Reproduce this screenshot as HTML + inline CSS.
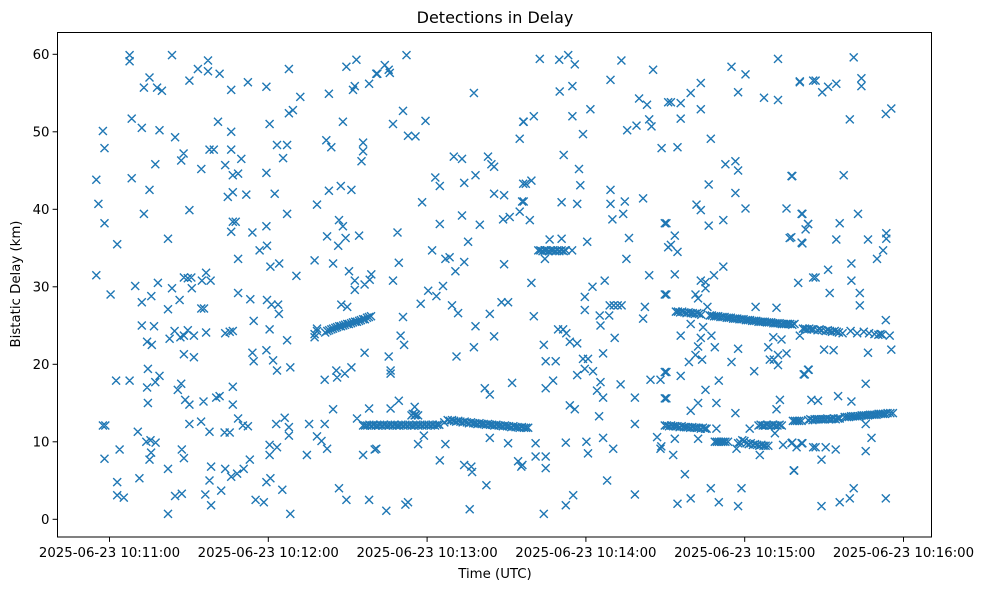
<!DOCTYPE html>
<html><head><meta charset="utf-8"><title>Detections in Delay</title>
<style>
html,body{margin:0;padding:0;background:#fff;}
svg{display:block;font-family:"DejaVu Sans","Liberation Sans",sans-serif;}
</style></head>
<body>
<svg id="chart" width="986" height="590" viewBox="0 0 986 590" xmlns="http://www.w3.org/2000/svg">
<rect x="0" y="0" width="986" height="590" fill="#fff"/>
<text x="495" y="23" font-size="16" text-anchor="middle" fill="#000">Detections in Delay</text>
<g id="plot"></g>
<g id="axes"></g>
<text x="495" y="578" font-size="13.3" text-anchor="middle" fill="#000">Time (UTC)</text>
<text transform="translate(20,284) rotate(-90)" font-size="13.3" text-anchor="middle" fill="#000">Bistatic Delay (km)</text>
</svg>
<script>
// time values: seconds after 2025-06-23 10:10:00 ; delay values in km
const xTickValues = [60, 120, 180, 240, 300, 360];
const xTickLabels = ["2025-06-23 10:11:00","2025-06-23 10:12:00","2025-06-23 10:13:00","2025-06-23 10:14:00","2025-06-23 10:15:00","2025-06-23 10:16:00"];
const yTickValues = [0, 10, 20, 30, 40, 50, 60];
const yTickLabels = ["0","10","20","30","40","50","60"];

const scatterEarly = [
[67.6,59.9],[67.6,59.1],[83.6,59.9],[97.2,59.2],[93.4,58.1],[97.2,57.8],[101.6,57.5],[75.1,57],[73,55.7],[78,55.7],[79.8,55.3],[90.2,56.6],[106,55.4],
[68.4,51.7],[72.2,50.5],[57.5,50.1],[78.9,50.2],[84.8,49.3],[101,51.3],[106,50],
[58.1,47.9],[97.8,47.7],[99.4,47.7],[106,47.7],[88,47.2],[87.1,46.3],[77.3,45.8],[94.7,45.2],[103.7,45.7],[106.6,44.4],
[55,43.8],[68.4,44],[75.1,42.5],[104.7,41.6],[106.6,42.2],[55.8,40.7],[73,39.4],[90.2,39.9],[58.1,38.2],[106,37.1],[106.6,38.4],
[62.9,35.5],[82.1,36.2],[55,31.5],[60.4,29],[69.7,30.1],[78.3,30.5],[72.2,28],[75.8,28.8],[83.6,29.8],[88.1,31.2],[90.9,31.2],[89.6,31.1],[91.1,29.8],[96.5,31.8],[94.9,30.8],[98.2,30.8],[86.5,28.3],[82.1,27.1],[94.7,27.2],[95.7,27.2],
[72.2,25],[76.8,24.9],[82.7,23.3],[84.6,24.3],[86.8,23.5],[88.1,23.7],[89.6,24.4],[91.9,23.7],[96.5,24.1],[103.7,24],[105.4,24.2],[106.6,24.3],[74.2,22.9],[76,22.5],[88.1,21.3],[91.9,20.9],
[74.5,19.4],[62.5,17.9],[67.6,17.9],[78.9,18.5],[77.3,17.7],[74.2,17],[87.1,17.5],[85.8,16.7],[74.5,15],[88.6,15.4],[90.2,14.8],[95.5,15.2],[100.3,15.7],[101.6,15.9],[106.6,17.1],[106.6,14.8],
[57.5,12.1],[58.4,12.1],[70.7,11.3],[90.2,12.3],[94.6,12.6],[97.8,11.3],[103.5,11.2],[105.4,11.2],[73.9,10],[75.5,10.2],[77.4,9.9],[63.8,9],[75.7,8.6],[75.1,7.7],[58.1,7.8],[87.3,9],[88.1,7.9],[82.1,6.5],[98.4,6.8],[103.7,6.5],[106,5.5],[71.3,5.3],[62.9,4.8],[97.8,5],[102.2,3.7],[62.9,3.1],[65.4,2.8],[84.8,3],[87.3,3.3],[96.2,3.2],[98.4,1.8],[82.1,0.7]
];
const scatterMid = [
[127.8,58.1],[149.5,58.4],[153.3,59.3],[160.8,57.5],[112.3,56.4],[119.3,55.8],[132.1,54.5],[142.9,54.9],[152,55.4],[152.7,55.9],[158.1,56.2],[120.5,51],[127.8,52.4],[129.3,52.8],[148.2,51.3],
[123.3,48.3],[127.1,48.3],[141.9,48.9],[143.8,48],[155.8,48.6],[155.8,47.5],[155.2,46.2],[125.6,46.6],[109.8,46.5],[108.6,44.6],[119.3,44.7],
[111.7,41.9],[122.4,42],[142.9,42.4],[147.4,43],[151.4,42.5],[138.4,40.6],[127.1,39.4],
[107.7,38.4],[114,37],[119.3,37.8],[142.2,36.5],[146.7,38.6],[148.2,37.8],[149.2,36.3],[154.3,36.6],[146.4,35.3],[116.7,34.7],[119.5,35.3],[108.6,33.6],[120.8,32.6],[124.1,33],[137.5,33.4],[144.5,33],[130.6,31.4],[150.5,32],[152.7,30.8],[152.7,29.6],[156.4,30.3],[158.3,30.9],[158.9,31.6],
[108.6,29.2],[113.2,28.4],[119.5,28.3],[121.2,27.7],[123.7,27.7],[124,26.5],[147.6,27.7],[149.8,27.4],[114.5,25.6],[120.5,24.5],[127.1,23.1],[137.5,23.5],[138.4,24.6],
[156.4,21.5],[114,21.5],[114.5,20.4],[119.3,21.8],[121.8,20.5],[123.3,19.2],[128.3,19.6],[141.3,18],[145.7,19.2],[146,18.3],[148.9,18.8],[151.4,19.6],
[108.6,13],[110.4,12.1],[112.3,12],[123,12.3],[126.2,13.1],[127.8,11.9],[127.8,10.8],[135.4,12.3],[141.3,12.3],[144.5,14.2],[138.4,10.7],[140.1,10.1],[142.2,9.1],[120.5,9.6],[120.5,8.3],[123.3,9.3],[134.6,8.3],[155.8,8.3],[160.2,9],[153.5,13],[158.1,14.3],[113,7.7],[110.7,6.5],[108.2,5.9],[119.3,4.8],[120.8,5.3],[125.3,3.8],[115.2,2.5],[118.3,2.2],[128.3,0.7],[146.7,4],[149.5,2.5],[158.1,2.5],
[172.2,59.9],[164,58.6],[165.5,58],[165.9,57.6],[161.2,57.5],[197.7,55],[170.9,52.7],[167.1,51],[179.4,51.4],[172.8,49.5],[175.6,49.4],[216.3,51.3],[215,49.1],
[190.1,46.8],[193.2,46.5],[203,46.8],[204.3,45.8],[205.3,45.5],[183.1,44.1],[184.8,43],[194,43.4],[198.3,44.4],[205.3,42],[209.1,41.8],[216.3,43.3],[215.9,41],[215,39.7],[178.1,40.9],[193.2,39.2],[208.7,38.7],[211.2,39],[184.8,38.1],[199.9,38],[168.8,37],[195.5,35.8],[181.9,34.7],[186.9,33.6],[188.5,33.8],[194,33.2],[190.7,32],[209.1,32.9],[169.3,33.1],[167.1,30.8],[186,30.1],[180.4,29.5],[183.5,28.8],[177.6,27.8],[189.4,27.6],[191.7,26.6],[203.7,26.5],[208.1,28],[210.6,28],[170.9,26.1],[170,23.7],[171.3,22.5],[198.3,24.9],[205.3,23.6],[197.7,22.2],[191.1,21],[165.5,21],[166.2,19.2],[166.2,18.8],[212.1,17.6],[201.8,16.9],[203.7,16.1],
[166.2,14.3],[169.3,15.3],[175.3,14.5],[174.1,13.4],[175.3,13.4],[176.6,13.4],[174.6,13.6],[175.8,13.5],
[178.8,10.8],[176.6,9.7],[186.9,9.7],[160.8,9.1],[203.7,10.5],[210.6,9.8],[184.8,7.6],[194,7],[196.7,6.8],[197,6.1],[214.4,7.5],[215.6,6.8],[202.4,4.4],[164.6,1.1],[171.8,1.9],[172.8,2.2],[196.1,1.3]
];
const scatterLate = [
[222.6,59.4],[229.9,59.3],[233.3,59.9],[235.8,58.7],[253.4,59.2],[265.4,58],[249.3,56.7],[230.1,55.2],[234.9,55.9],[241.7,52.9],[260.1,54.3],[263.1,53.5],[271.1,53.8],[216.5,51.3],[220.3,52],[234.9,52],[238.9,49.7],[255.6,50.2],[259.1,50.8],[263.9,51.6],[264.8,50.7],[268.6,47.9],[231.6,47],[237.4,45.2],[237.9,43.1],[217.3,43.3],[219.4,43.7],[216.5,41],[230.8,40.9],[236.7,40.7],[249.3,42.5],[249.3,40.7],[254.7,41],[261.6,41.4],[218.8,38.6],[250,38.7],[254.1,39.4],[269.8,38.2],[271.1,35.1],[256.3,36.3],[240.5,35.8],[255.3,33.6],
[226.3,36.1],[230.8,36.2],[224.5,33.6],
[219.4,30.5],[263.9,31.5],[247.1,30.8],[242.5,30],[239.6,28.7],[269.8,29],[249,27.6],[250.5,27.6],[252,27.6],[253.5,27.6],[262.3,27.4],[261.6,25.9],[239.6,27],[245.2,26.3],[248.8,26.3],[245.5,25],[220.3,26.2],[229.5,24.5],[231.4,24.5],[232.6,24],[233.9,22.9],[236.7,22.7],[250.9,23.4],[224.1,22.5],[224.8,20.4],[228.6,20.4],[238.9,20.7],[240.8,20.7],[246.5,21.4],[239.6,19.4],[242.7,19.1],[236.7,18.6],[227.6,17.9],[224.8,16.9],[245.5,17.7],[244.2,16.6],[246.5,15.7],[253.1,17.4],[258.5,15.7],[264.4,18],[268.2,18],[269.8,19],[269.8,15.6],[233.9,14.7],[235.8,14.2],[245,13.3],
[258.5,12.3],[221,9.8],[232.4,9.9],[240.2,10],[240.8,8.5],[246.5,10.5],[250.3,9.1],[221,8.1],[224.8,8.1],[216,7],[224.8,6.6],[266.9,10.6],[268.2,9.1],[268.5,9.4],[248,5],[235.2,3.1],[232.4,1.8],[224.1,0.7],[258.5,3.2],
[312.6,59.4],[295,58.4],[300.3,57.4],[320.8,56.4],[325.9,56.6],[283.4,56.3],[279.6,55],[297.5,55.1],[307.3,54.4],[312.6,54.1],[272.1,53.8],[275.8,53.7],[283.4,52.9],[275.8,51.7],[287.2,49.1],[274.6,48],[292.7,45.8],[296.5,46.2],[297.5,45],[317.7,44.3],[286.4,43.2],[296.5,42.1],[281.8,40.6],[283.4,39.9],[300.3,40.1],[315.8,40.1],[321.5,39.4],[324,38.1],[323,37.4],[286.4,37.9],[291.9,38.6],[270.4,38.2],[273.6,36.6],[272.1,35.4],[274.6,34.5],[317,36.3],[321.5,35.7],[291.9,32.6],[273.6,31.6],[288.4,31.5],[283.4,30.8],[285.2,30.6],[285.2,29.8],[281.4,29],[270.4,29],[320.2,30.5],[325.9,31.2],
[304.1,27.4],[312,27.3],[285.9,27.4],[282.4,28.5],[279.6,25.2],[275.8,23.7],[284.3,24.8],[287.4,23.7],[283.4,23.4],[282.4,22.3],[288.7,22.2],[297.5,22],[281.4,21.2],[283.9,20.6],[278.9,20.3],[295,20.3],[308.9,22.2],[310.8,23.5],[313.9,23.2],[315.8,21.4],[312.6,21.2],[309.5,20.6],[311,20.6],[312.6,19.9],[303.6,19.1],[320.8,23.7],[322.7,18.7],[324.2,19.3],[270.4,19],[275.8,18.5],[290.2,17.9],[285.2,16.7],[270.4,15.6],[282.4,15],[279.6,14],[289.3,15],[313.3,15.4],[312,14.2],[325.2,15.4],[296.5,13.7],
[273.6,10.4],[282.4,10.4],[273,8.3],[289.3,11.7],[301.9,11.7],[296.9,9.1],[305.7,8.3],[311.4,11.1],[314.5,9.6],[317.7,9.8],[319.6,9.3],[321.5,9.8],[325.9,9.3],[277.4,5.8],[318.7,6.3],[287.2,4],[298.8,4],[279.6,2.7],[274.6,2],[290.2,2.2],[297.5,1.7],
[341.2,59.6],[320.8,56.5],[326.8,56.6],[329.3,55.1],[331.5,55.8],[334.6,56.2],[344.1,56.9],[344.1,55.9],[339.7,51.6],[353.3,52.3],[355.4,53],[318,44.3],[337.4,44.4],[321.8,39.4],[323.9,38.1],[323,37.4],[335.9,38.2],[342.8,39.4],[317.6,36.4],[321.8,35.6],[334.6,36.1],[346.6,36.1],[353.5,36.9],[353.5,36.2],[352.3,34.7],[350,33.6],[340.3,33],[331.5,32.2],[326.8,31.2],[320.2,30.5],[340.3,30.8],[332.1,29.2],[343.5,29.2],[343.5,27.6],
[353.3,25.7],[320.8,23.7],[330,21.9],[333.6,21.8],[346.6,21.5],[355.4,21.9],[322.3,18.7],[323.9,19.3],[345.7,17.5],[325.2,15.4],[327.7,15.3],[335.3,15.9],[340.3,15.2],
[345.7,12.3],[347.9,10.5],[318,9.9],[321.8,9.8],[326.8,9.3],[330.6,9.3],[334.4,9],[345.7,8.8],[329,7.7],[318.5,6.3],[341.2,4],[339.7,2.7],[335.9,2.2],[329,1.7],[353.3,2.7]
];
const trackA = [[137.5,23.9],[138.4,24.3],[141.5,24.1],[142.3,24.3],[143,24.4],[143.8,24.5],[144.5,24.6],[145.3,24.7],[146,24.8],[146.8,24.9],[147.5,24.9],[148.3,25],[149,25.1],[149.8,25.2],[150.5,25.2],[151.3,25.3],[152,25.4],[152.8,25.5],[153.5,25.5],[154.3,25.6],[155,25.7],[155.8,25.8],[156.5,25.8],[157.3,26],[158,26.1],[158.8,26.2]];
const trackB = [[155.8,12.1],[156.6,12.1],[157.4,12.1],[158.2,12.2],[159,12.1],[159.8,12.2],[160.6,12.1],[161.4,12.1],[162.2,12.2],[163,12.1],[163.8,12.2],[164.6,12.1],[165.4,12.1],[166.2,12.2],[167,12.1],[167.8,12.2],[168.6,12.1],[169.4,12.1],[170.2,12.2],[171,12.1],[171.8,12.2],[172.6,12.1],[173.4,12.2],[174.2,12.1],[175,12.1],[175.8,12.2],[176.6,12.1],[177.4,12.2],[178.2,12.1],[179,12.2],[179.8,12.1],[180.6,12.2],[181.4,12.1],[182.2,12.2],[183,12.1],[183.8,12.2],[184.6,12.2],[186.5,12.5],[187.8,12.8],[188.6,12.7],[189.4,12.8],[190.2,12.7],[191,12.6],[191.8,12.7],[192.6,12.6],[193.4,12.5],[194.2,12.6],[195,12.5],[195.8,12.4],[196.6,12.5],[197.4,12.4],[198.2,12.4],[199,12.3],[199.8,12.4],[200.6,12.3],[201.4,12.3],[202.2,12.2],[203,12.3],[203.8,12.2],[204.6,12.2],[205.4,12.1],[206.2,12.2],[207,12.1],[207.8,12.1],[208.6,12],[209.4,12.1],[210.2,12],[211,12],[211.8,11.9],[212.6,12],[213.4,11.9],[214.2,11.9],[215,11.8],[215.8,11.9],[216.6,11.8],[217.4,11.8],[218.2,11.8]];
const trackC = [[274,26.8],[274.8,26.8],[275.6,26.7],[276.4,26.8],[277.2,26.7],[278,26.6],[278.8,26.7],[279.6,26.6],[280.4,26.6],[281.2,26.5],[282,26.6],[282.8,26.5],[283.6,26.4],[286.8,26.3],[287.6,26.3],[288.4,26.2],[289.2,26.2],[290,26.2],[290.8,26.1],[291.6,26.1],[292.4,26.1],[293.2,26],[294,26],[294.8,26],[295.6,25.9],[296.4,25.9],[297.2,25.9],[298,25.8],[298.8,25.8],[299.6,25.8],[300.4,25.7],[301.2,25.7],[302,25.7],[302.8,25.6],[303.6,25.6],[304.4,25.6],[305.2,25.5],[306,25.5],[306.8,25.5],[307.6,25.5],[308.4,25.4],[309.2,25.4],[310,25.4],[310.8,25.3],[311.6,25.3],[312.4,25.3],[313.2,25.3],[314,25.2],[314.8,25.2],[315.6,25.2],[316.4,25.2],[317.2,25.2],[318,25.1],[318.8,25.2],[322,24.6],[322.8,24.6],[323.6,24.5],[324.4,24.6],[325.2,24.5],[326,24.5],[327.5,24.4],[328.3,24.5],[329.1,24.4],[330.6,24.3],[331.4,24.4],[332.2,24.3],[333,24.2],[334,24.3],[334.8,24.2],[335.6,24.1],[337,24],[340,24.3],[342.5,24],[345,24.2],[347,24],[349,23.9],[350.5,23.8],[351.3,23.9],[352,23.8],[354.8,23.7]];
const trackD = [[269.8,12.1],[270.6,12.1],[271.4,12],[272.2,12.1],[273,12],[273.8,12],[274.6,12],[275.4,11.9],[276.2,12],[277,11.9],[277.8,11.9],[278.6,11.9],[279.4,11.8],[280.2,11.9],[281,11.8],[281.8,11.8],[282.6,11.8],[283.4,11.7],[284.2,11.8],[285,11.7],[285.6,11.7],[288.7,10],[289.5,10],[290.3,10],[291.1,10],[291.9,10],[292.7,10],[293.7,10],[297.5,9.8],[298.3,9.9],[299.1,10.2],[299.9,10.1],[300.7,9.8],[301.5,9.7],[302.3,9.8],[303.1,9.6],[303.9,9.7],[304.7,9.6],[305.5,9.5],[306.3,9.6],[307.1,9.5],[307.9,9.5],[308.9,9.5],[305.2,12.1],[306,12.2],[306.8,12.1],[307.6,12.1],[308.4,12.2],[309.2,12.1],[310,12.1],[310.8,12.2],[311.6,12.1],[312.4,12.1],[313.2,12.2],[314,12.1],[318.2,12.7],[319,12.7],[319.8,12.7],[320.6,12.7],[321.5,12.7],[324,12.8],[324.8,12.9],[325.6,12.8],[326.4,12.9],[327.2,12.9],[328,12.9],[328.8,12.9],[329.6,12.9],[330.4,12.9],[331.2,13],[332,12.9],[332.8,12.9],[333.6,13],[334.4,12.9],[335.2,13],[335.9,13],[337.8,13.2],[338.6,13.2],[339.4,13.2],[340.2,13.3],[341,13.3],[341.8,13.3],[342.6,13.3],[343.4,13.3],[344.2,13.4],[345,13.4],[345.8,13.4],[346.6,13.4],[347.4,13.5],[348.2,13.5],[349,13.5],[349.8,13.5],[350.6,13.6],[351.4,13.6],[352.2,13.6],[353,13.6],[354,13.7],[355,13.7],[356,13.7]];
const trackE = [[222,34.7],[222.8,34.7],[223.6,34.6],[224.4,34.7],[225.2,34.7],[226,34.6],[226.8,34.7],[227.6,34.7],[228.4,34.6],[229.2,34.7],[230,34.6],[230.8,34.7],[231.6,34.6],[232.4,34.7],[234.8,34.7]];

// axis functions
const plotL = 57.5, plotR = 931.5, plotT = 32.5, plotB = 537;
function xScale(t){ return 109.5 + (t - 60) * (158.8 / 60); }
function yScale(k){ return 519.3 - k * 7.75; }

const NS = "http://www.w3.org/2000/svg";
const plot = document.getElementById('plot');
const axes = document.getElementById('axes');

function drawSeries(arr, name){
  const g = document.createElementNS(NS,'g');
  
  
  g.setAttribute('stroke', '#1f77b4');
  g.setAttribute('stroke-width', '1.4');
  g.setAttribute('fill', 'none');
  let d = '';
  for (const p of arr){
    const cx = xScale(p[0]), cy = yScale(p[1]), r = 4;
    d += 'M'+(cx-r).toFixed(1)+' '+(cy-r).toFixed(1)+'L'+(cx+r).toFixed(1)+' '+(cy+r).toFixed(1)+
         'M'+(cx-r).toFixed(1)+' '+(cy+r).toFixed(1)+'L'+(cx+r).toFixed(1)+' '+(cy-r).toFixed(1);
  }
  const path = document.createElementNS(NS,'path');
  path.setAttribute('d', d);
  
  
  g.appendChild(path);
  plot.appendChild(g);
}
drawSeries(scatterEarly, 'detections-early');
drawSeries(scatterMid, 'detections-mid');
drawSeries(scatterLate, 'detections-late');
drawSeries(trackA, 'track-a');
drawSeries(trackB, 'track-b');
drawSeries(trackC, 'track-c');
drawSeries(trackD, 'track-d');
drawSeries(trackE, 'track-e');

// frame
const frame = document.createElementNS(NS,'rect');
frame.setAttribute('x', plotL); frame.setAttribute('y', plotT);
frame.setAttribute('width', plotR-plotL); frame.setAttribute('height', plotB-plotT);
frame.setAttribute('fill','none'); frame.setAttribute('stroke','#000'); frame.setAttribute('stroke-width','1');


axes.appendChild(frame);

xTickValues.forEach((v,i)=>{
  const x = xScale(v);
  const ln = document.createElementNS(NS,'line');
  ln.setAttribute('x1',x); ln.setAttribute('x2',x); ln.setAttribute('y1',plotB); ln.setAttribute('y2',plotB+4.9);
  ln.setAttribute('stroke','#000'); ln.setAttribute('stroke-width','1');
  
  
  axes.appendChild(ln);
  const tx = document.createElementNS(NS,'text');
  tx.setAttribute('x',x); tx.setAttribute('y',plotB+20); tx.setAttribute('font-size','13.3');
  tx.setAttribute('text-anchor','middle'); tx.setAttribute('fill','#000');
  
  
  tx.textContent = xTickLabels[i];
  axes.appendChild(tx);
});
yTickValues.forEach((v,i)=>{
  const y = yScale(v);
  const ln = document.createElementNS(NS,'line');
  ln.setAttribute('x1',plotL-4.9); ln.setAttribute('x2',plotL); ln.setAttribute('y1',y); ln.setAttribute('y2',y);
  ln.setAttribute('stroke','#000'); ln.setAttribute('stroke-width','1');
  
  
  axes.appendChild(ln);
  const tx = document.createElementNS(NS,'text');
  tx.setAttribute('x',plotL-8); tx.setAttribute('y',y+4.8); tx.setAttribute('font-size','13.3');
  tx.setAttribute('text-anchor','end'); tx.setAttribute('fill','#000');
  
  
  tx.textContent = yTickLabels[i];
  axes.appendChild(tx);
});
</script>
</body></html>
